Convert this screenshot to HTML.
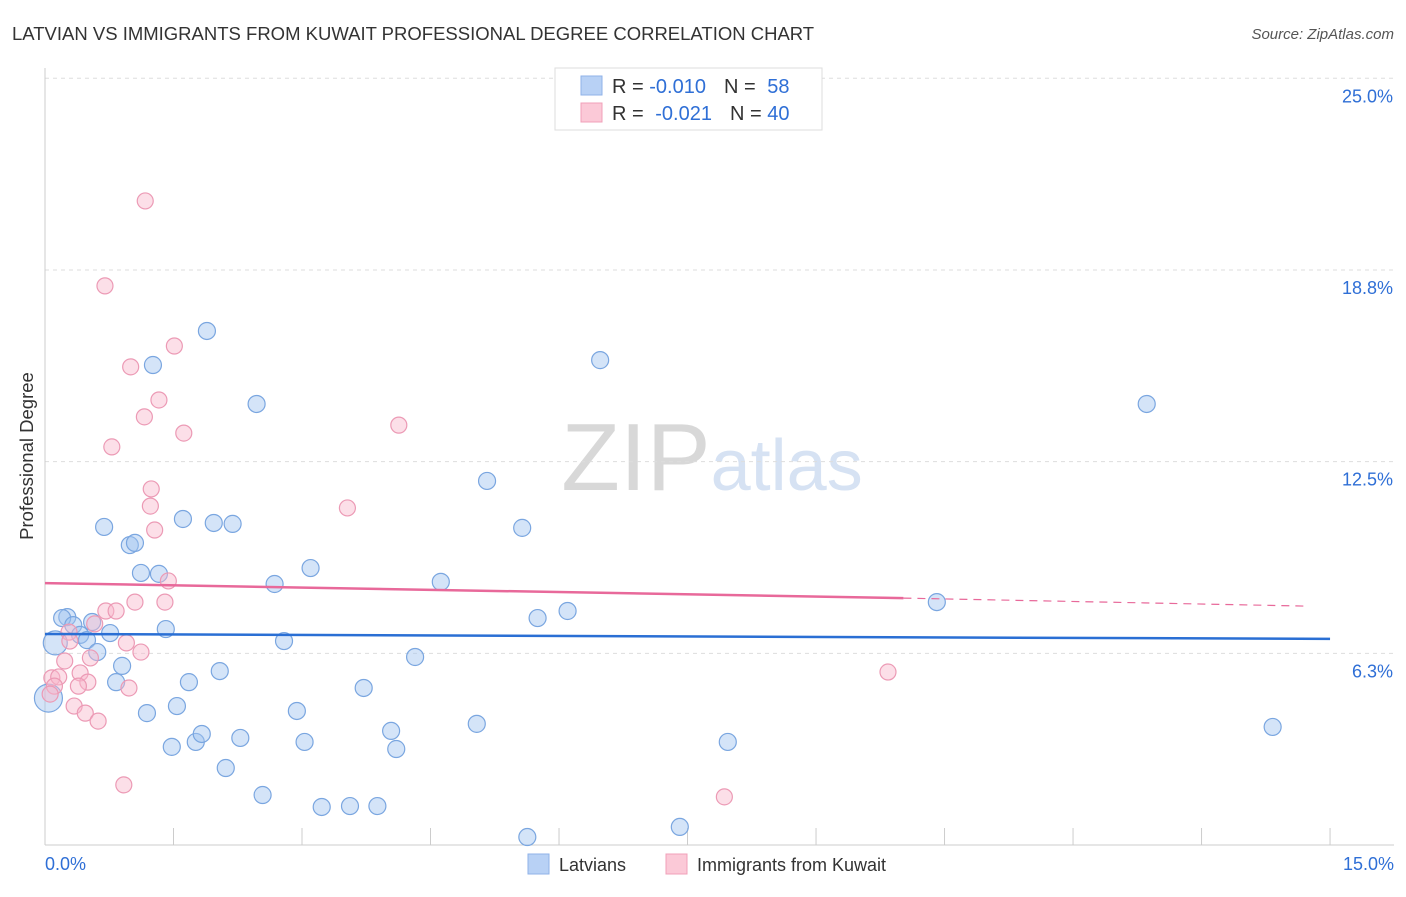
<!DOCTYPE html>
<html><head><meta charset="utf-8"><style>
body{margin:0;background:#fff;font-family:"Liberation Sans",sans-serif;}
svg text{font-family:"Liberation Sans",sans-serif;}
</style></head><body>
<svg id="chart" width="1406" height="892" xmlns="http://www.w3.org/2000/svg">
<text x="12" y="40" font-size="18.5" fill="#333">LATVIAN VS IMMIGRANTS FROM KUWAIT PROFESSIONAL DEGREE CORRELATION CHART</text>
<text x="1394" y="39" font-size="15" fill="#555" text-anchor="end" font-style="italic">Source: ZipAtlas.com</text>
<text x="712" y="490" font-size="96" text-anchor="middle" fill="#e4e4e4" font-family="Liberation Serif"><tspan fill="#d8d8d8">ZIP</tspan><tspan fill="#d6e2f3" font-family="Liberation Sans" font-size="72">atlas</tspan></text>
<g id="grid"></g><g id="axes"></g><g id="pts"></g><g id="trend"></g>
<text transform="translate(33,456) rotate(-90)" font-size="18.5" fill="#333" text-anchor="middle">Professional Degree</text>
<g>
<rect x="555" y="68" width="267" height="62" fill="#fff" stroke="#ddd"/>
<rect x="581" y="76" width="21" height="19" fill="#b8d1f5" stroke="#8fb2e8"/>
<rect x="581" y="103" width="21" height="19" fill="#fbc9d7" stroke="#f0a0b8"/>
<text x="612" y="93" font-size="20" fill="#333">R = <tspan fill="#2f6fd6">-0.010</tspan><tspan dx="18">N = </tspan><tspan fill="#2f6fd6" dx="6">58</tspan></text>
<text x="612" y="120" font-size="20" fill="#333">R = <tspan fill="#2f6fd6" dx="6">-0.021</tspan><tspan dx="18">N = </tspan><tspan fill="#2f6fd6">40</tspan></text>
</g>
<g>
<rect x="528" y="854" width="21" height="20" fill="#b8d1f5" stroke="#8fb2e8"/>
<text x="559" y="871" font-size="18" fill="#333">Latvians</text>
<rect x="666" y="854" width="21" height="20" fill="#fbc9d7" stroke="#f0a0b8"/>
<text x="697" y="871" font-size="18" fill="#333">Immigrants from Kuwait</text>
</g>
</svg>
<script>
const yTicks=[25.0,18.8,12.5,6.3];
const yTickVals=[25,18.75,12.5,6.25];
const xTickLabels=["0.0%","15.0%"];
const blueX=[0.12,0.04,0.26,0.20,0.33,0.41,0.49,0.55,0.61,0.76,0.69,0.90,0.83,0.99,1.05,1.12,1.26,1.33,1.41,1.19,1.48,1.54,1.61,1.68,1.76,1.83,1.89,1.97,2.04,2.11,2.19,2.28,2.47,2.54,2.68,2.79,2.94,3.03,3.10,3.23,3.72,3.56,3.88,4.04,4.10,4.32,4.62,5.04,5.16,5.57,5.63,5.75,6.10,6.48,7.41,7.97,10.41,12.86,14.33];
const blueY=[6.59,4.79,7.43,7.40,7.17,6.85,6.68,7.27,6.29,6.91,10.37,5.84,5.31,9.78,9.85,8.87,15.65,8.84,7.04,4.30,3.20,4.53,10.63,5.31,3.36,3.62,16.76,10.50,5.67,2.51,10.47,3.49,14.38,1.63,8.51,6.65,4.37,3.36,9.03,1.24,5.12,1.27,1.27,3.72,3.13,6.13,8.58,3.95,11.87,10.34,0.26,7.40,7.63,15.81,0.59,3.36,7.92,14.38,3.85];
const blueR=[12,14];
const pinkX=[1.17,0.70,1.51,1.00,1.33,1.16,4.13,1.62,0.78,1.24,1.23,3.53,1.28,1.44,1.05,1.40,0.71,0.83,0.58,0.28,0.29,0.95,1.12,0.53,0.23,0.41,0.08,0.16,0.50,0.39,0.11,0.98,0.06,0.34,0.47,0.62,0.92,7.93,9.84];
const pinkY=[21.00,18.23,16.27,15.59,14.51,13.96,13.69,13.43,12.98,11.61,11.05,10.99,10.27,8.61,7.92,7.92,7.63,7.63,7.21,6.94,6.65,6.59,6.29,6.10,6.00,5.61,5.45,5.48,5.31,5.18,5.18,5.12,4.92,4.53,4.30,4.04,1.96,1.57,5.64];
const blueTrend=[6.88,6.72];
const pinkTrend=[8.54,8.05,7.79];
const pinkTrendX=[0,10.02,14.71];
const X=v=>45+v*85.67, Y=v=>845-v*30.67;
const NS="http://www.w3.org/2000/svg";
function mk(t,a,p){const e=document.createElementNS(NS,t);for(const k in a)e.setAttribute(k,a[k]);p.appendChild(e);return e;}
const grid=document.getElementById('grid'),axes=document.getElementById('axes'),pts=document.getElementById('pts'),tr=document.getElementById('trend');
yTickVals.forEach((v,i)=>{
 const l=mk('line',{x1:45,x2:1394,y1:Y(v),y2:Y(v),stroke:'#ddd','stroke-dasharray':'4,4'},grid);
 
 
 const t=mk('text',{x:1393,y:Y(v)+24,'font-size':18,fill:'#2f6fd6','text-anchor':'end'},axes);
 t.textContent=yTicks[i].toFixed(1)+'%';
 
 
});
const ya=mk('line',{x1:45,x2:45,y1:68,y2:845,stroke:'#ccc'},axes);


const xa=mk('line',{x1:45,x2:1394,y1:845,y2:845,stroke:'#ccc'},axes);


for(let i=0;i<=10;i++){const tk=mk('line',{x1:X(i*1.5),x2:X(i*1.5),y1:828,y2:845,stroke:'#ccc'},axes);
 
 }
[[0,'start',45],[15,'end',1394]].forEach((d,i)=>{const t=mk('text',{x:d[2],y:870,'font-size':18,fill:'#2f6fd6','text-anchor':d[1]},axes);t.textContent=xTickLabels[i];
 
 });
blueX.forEach((x,i)=>{const r=i<2?blueR[i]:8.5;
 const c=mk('circle',{cx:X(x),cy:Y(blueY[i]),r:r,fill:'rgba(160,195,240,0.45)',stroke:'#7aa6e0','stroke-width':1.2},pts);
 
 });
pinkX.forEach((x,i)=>{
 const c=mk('circle',{cx:X(x),cy:Y(pinkY[i]),r:8,fill:'rgba(248,185,205,0.45)',stroke:'#ec9ab5','stroke-width':1.2},pts);
 
 });
const bl=mk('line',{x1:X(0),x2:X(15),y1:Y(blueTrend[0]),y2:Y(blueTrend[1]),stroke:'#2a6fd4','stroke-width':2.5},tr);


const pl=mk('line',{x1:X(pinkTrendX[0]),x2:X(pinkTrendX[1]),y1:Y(pinkTrend[0]),y2:Y(pinkTrend[1]),stroke:'#e8699a','stroke-width':2.5},tr);


const pd=mk('line',{x1:X(pinkTrendX[1]),x2:X(pinkTrendX[2]),y1:Y(pinkTrend[1]),y2:Y(pinkTrend[2]),stroke:'#e8699a','stroke-width':1.2,'stroke-dasharray':'8,6'},tr);


</script>
</body></html>
